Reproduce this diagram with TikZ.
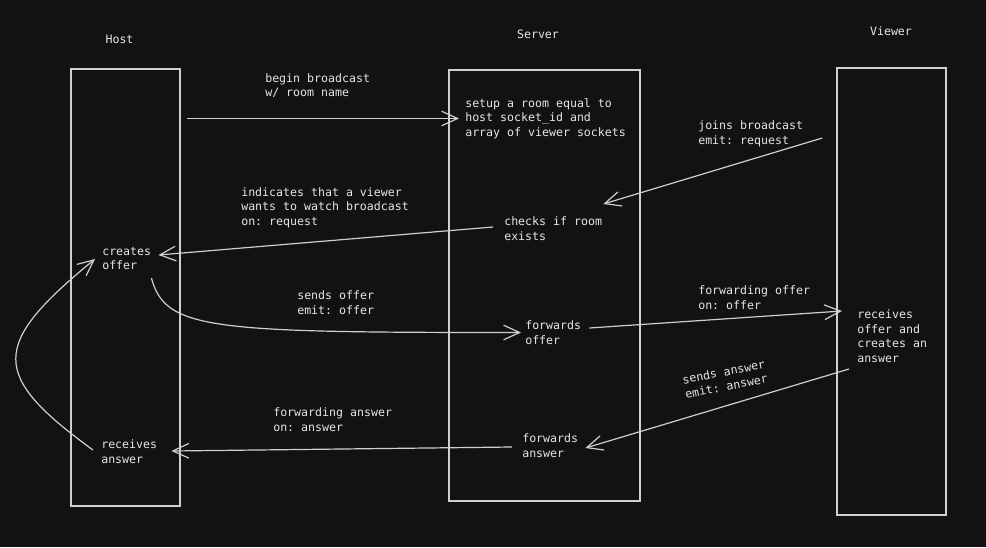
\documentclass[tikz,border=0pt]{standalone}
\usepackage{fontspec}
\setmonofont{DejaVu Sans Mono}
\usepackage{tikz}
\usetikzlibrary{arrows.meta,positioning,fit}

\definecolor{bg}{HTML}{121212}
\definecolor{ink}{HTML}{CFCFCF}
\definecolor{txt}{HTML}{E6E6E6}

\begin{document}
\begin{tikzpicture}[x=0.75pt,y=-0.75pt]
			\tikzstyle{Lane}	= [draw=ink, line width=0.9pt, inner sep=0pt]
			\tikzstyle{Label}	= [text=txt, font=\ttfamily\fontsize{8.7}{10.9}\selectfont, inner sep=0pt, align=left, anchor=west]
			\tikzstyle{Head}	= [Label, anchor=center]
			\tikzstyle{Msg}		= [draw=ink, line width=0.9pt, -{Straight Barb[length=12pt,width=11pt]}]
			
			\useasboundingbox (0,0) rectangle (986,547);
			\fill [bg] (0,0) rectangle (986,547);
			
			\node (host) at (119.5,39) [Head] {Host};
			\node (server) at (538,34) [Head] {Server};
			\node (viewer) at (891,31) [Head] {Viewer};
			
			\node (hostbox) [Lane, fit={(71,69) (180,506)}] {};
			\node (serverbox) [Lane, fit={(449,70) (640,501)}] {};
			\node (viewerbox) [Lane, fit={(837,68) (946,515)}] {};
			
			\node (bcast) at (265,85.5) [Label] {begin broadcast\\w/ room name};
			\node (setup) at (465,118.5) [Label] {setup a room equal to\\host socket\_id and\\array of viewer sockets};
			\node (joins) at (698,134) [Label] {joins broadcast\\emit: request};
			\node (indicates) at (241,207.5) [Label] {indicates that a viewer\\wants to watch broadcast\\on: request};
			\node (checks) at (504,228.5) [Label] {checks if room\\exists};
			\node (creates) at (102,258.5) [Label] {creates\\offer};
			\node (sendoffer) at (297,302.5) [Label] {sends offer\\emit: offer};
			\node (fwdofferlbl) at (698,297.5) [Label] {forwarding offer\\on: offer};
			\node (fwdoffer) at (525,332.5) [Label] {forwards\\offer};
			\node (recvoffer) at (857,336) [Label] {receives\\offer and\\creates an\\answer};
			\node (sendanswer) at (725,379) [Label, anchor=center, rotate=11] {sends answer\\emit: answer};
			\node (fwdanswerlbl) at (273,419.5) [Label] {forwarding answer\\on: answer};
			\node (fwdanswer) at (522,445.5) [Label] {forwards\\answer};
			\node (recvanswer) at (101,451.5) [Label] {receives\\answer};
			
			\draw [Msg, shorten <=4.5pt, shorten >=4.5pt] (hostbox.east |- setup.west) to (setup.west);
			\draw [Msg] ([shift={(19,4)}]joins.east) to ([shift={(1,-24.5)}]checks.east);
			\draw [Msg] ([shift={(-11,-1.5)}]checks.west) to ([shift={(7,-3.5)}]creates.east);
			\draw [Msg] ([shift={(0,19.5)}]creates.east) .. controls +(14,52) and +(-311,0) .. ([shift={(-4,0)}]fwdoffer.west);
			\draw [Msg] ([shift={(8,-4.5)}]fwdoffer.east) to ([shift={(-15,-25)}]recvoffer.west);
			\draw [Msg] ([shift={(-8,33)}]recvoffer.west) to ([shift={(7,2.5)}]fwdanswer.east);
			\draw [Msg] ([shift={(-10,1.5)}]fwdanswer.west) to ([shift={(14,-0.5)}]recvanswer.east);
			\draw [Msg] ([shift={(-8,-1.5)}]recvanswer.west) .. controls +(-103,-75) and +(-105,86) .. ([shift={(-7,0.5)}]creates.west);
\end{tikzpicture}
\end{document}
